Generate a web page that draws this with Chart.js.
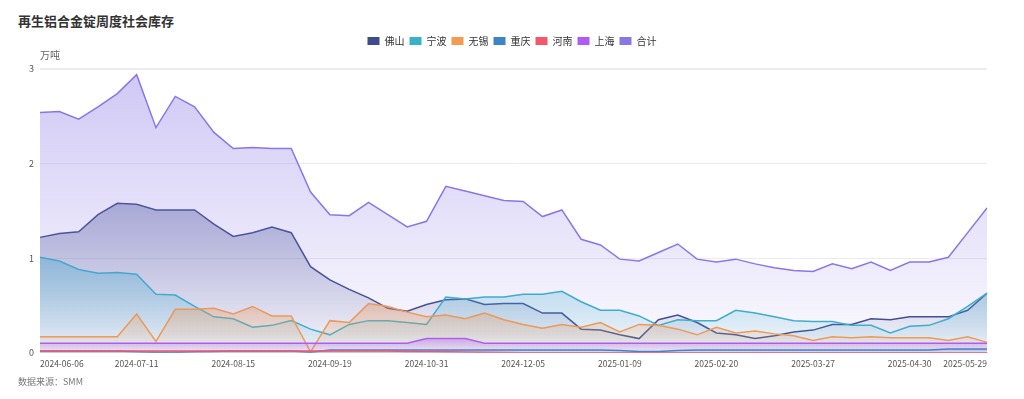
<!DOCTYPE html>
<html>
<head>
<meta charset="utf-8">
<script src="https://cdn.jsdelivr.net/npm/chart.js@4"></script>
<style>
  body { margin: 0; background: #fff; }
  #wrap { position: relative; width: 1024px; height: 399px; font-family: "Noto Sans CJK SC", "Noto Sans", sans-serif; }
  #title { position: absolute; left: 18px; top: 11px; font-size: 13px; font-weight: bold; color: #333; }
  #source { position: absolute; left: 18px; top: 375px; font-size: 9px; color: #777; }
  canvas { position: absolute; left: 0; top: 0; }
</style>
</head>
<body>
<div id="wrap">
  <div id="title">再生铝合金锭周度社会库存</div>
  <canvas id="chart" width="1024" height="399"></canvas>
  <div id="source">数据来源：SMM</div>
</div>
<script>
// weekly dates (holiday weeks skipped)
const dates = [
  "2024-06-06","2024-06-13","2024-06-20","2024-06-27","2024-07-04","2024-07-11","2024-07-18","2024-07-25",
  "2024-08-01","2024-08-08","2024-08-15","2024-08-22","2024-08-29","2024-09-05","2024-09-12","2024-09-19",
  "2024-09-26","2024-10-10","2024-10-17","2024-10-24","2024-10-31","2024-11-07","2024-11-14","2024-11-21",
  "2024-11-28","2024-12-05","2024-12-12","2024-12-19","2024-12-26","2025-01-02","2025-01-09","2025-01-16",
  "2025-01-23","2025-02-06","2025-02-13","2025-02-20","2025-02-27","2025-03-06","2025-03-13","2025-03-20",
  "2025-03-27","2025-04-03","2025-04-10","2025-04-17","2025-04-24","2025-04-30","2025-05-08","2025-05-15",
  "2025-05-22","2025-05-29"
];

const names = ["佛山", "宁波", "无锡", "重庆", "河南", "上海", "合计"];

const foshan = [1.22,1.26,1.28,1.46,1.58,1.57,1.51,1.51,1.51,1.36,1.23,1.27,1.33,1.27,0.91,0.77,0.67,0.58,0.47,0.44,
  0.51,0.56,0.57,0.51,0.52,0.52,0.42,0.42,0.25,0.24,0.19,0.15,0.35,0.40,0.32,0.21,0.19,0.15,0.18,0.22,
  0.24,0.30,0.30,0.36,0.35,0.38,0.38,0.38,0.45,0.63];
const ningbo = [1.01,0.97,0.88,0.84,0.85,0.83,0.62,0.61,0.49,0.38,0.36,0.27,0.29,0.34,0.25,0.19,0.30,0.34,0.34,0.32,
  0.30,0.59,0.57,0.59,0.59,0.62,0.62,0.65,0.54,0.45,0.45,0.39,0.29,0.35,0.34,0.34,0.45,0.42,0.38,0.34,
  0.33,0.33,0.29,0.29,0.21,0.28,0.29,0.36,0.49,0.63];
const wuxi = [0.17,0.17,0.17,0.17,0.17,0.41,0.12,0.46,0.46,0.47,0.41,0.49,0.39,0.39,0.01,0.34,0.32,0.52,0.49,0.43,
  0.38,0.40,0.36,0.42,0.35,0.30,0.26,0.30,0.27,0.32,0.22,0.30,0.29,0.25,0.19,0.27,0.21,0.23,0.20,0.18,
  0.13,0.17,0.16,0.17,0.16,0.16,0.16,0.13,0.17,0.11];
const chongqing = [0.02,0.02,0.02,0.02,0.02,0.01,0.005,0.005,0.01,0.015,0.02,0.02,0.02,0.02,0.005,0.03,0.03,0.03,0.03,0.03,
  0.03,0.03,0.03,0.03,0.03,0.03,0.03,0.03,0.03,0.03,0.025,0.015,0.015,0.025,0.03,0.03,0.03,0.03,0.03,0.03,
  0.03,0.03,0.03,0.03,0.03,0.03,0.03,0.04,0.04,0.04];
const henan = [0.02,0.02,0.02,0.02,0.02,0.02,0.02,0.02,0.02,0.02,0.02,0.02,0.02,0.02,0.02,0.02,0.02,0.02,0.018,0.015,
  0.013,0.01,0.008,0.005,0.003,0,0,0,0,0,0,0,0,0,0,0,0,0,0,0,
  0,0,0,0,0,0,0,0,0,0];
const shanghai = [0.1,0.1,0.1,0.1,0.1,0.1,0.1,0.1,0.1,0.1,0.1,0.1,0.1,0.1,0.1,0.1,0.1,0.1,0.1,0.1,
  0.15,0.15,0.15,0.1,0.1,0.1,0.1,0.1,0.1,0.1,0.1,0.1,0.1,0.1,0.1,0.1,0.1,0.1,0.1,0.1,
  0.1,0.1,0.1,0.1,0.1,0.1,0.1,0.1,0.1,0.1];
const total = [2.54,2.55,2.47,2.60,2.74,2.94,2.38,2.71,2.60,2.33,2.16,2.17,2.16,2.16,1.70,1.46,1.45,1.59,1.46,1.33,
  1.39,1.76,1.71,1.66,1.61,1.60,1.44,1.51,1.20,1.14,0.99,0.97,1.06,1.15,0.99,0.96,0.99,0.94,0.90,0.87,
  0.86,0.94,0.89,0.96,0.87,0.96,0.96,1.01,1.27,1.53];

const yTicks = [0, 1, 2, 3];

const series = [foshan, ningbo, wuxi, chongqing, henan, shanghai, total];
const colors = ["#3e4b8d", "#38b2c9", "#f39c4f", "#3b84c6", "#f4566a", "#b25bf4", "#8a77e6"];

function rgba(hex, a) {
  const n = parseInt(hex.slice(1), 16);
  return `rgba(${n >> 16},${(n >> 8) & 255},${n & 255},${a})`;
}

// gradient from the series' own peak down to the x axis
function areaFill(context) {
  const chart = context.chart;
  const area = chart.chartArea;
  const i = context.datasetIndex;
  if (!area || !chart.scales.y) return rgba(colors[i], 0.2);
  const top = chart.scales.y.getPixelForValue(Math.max(...series[i]));
  const g = chart.ctx.createLinearGradient(0, Math.min(top, area.bottom - 1), 0, area.bottom);
  g.addColorStop(0, rgba(colors[i], 0.4));
  g.addColorStop(1, rgba(colors[i], 0.03));
  return g;
}

// legend: extra gap below it (room for the unit label) and centred on the canvas
const legendTweak = {
  id: "legendTweak",
  beforeLayout(chart) {
    const lg = chart.legend;
    if (lg && !lg._gapPatched) {
      const fit = lg.fit;
      lg.fit = function () { fit.call(this); this.height += 13; };
      lg._gapPatched = true;
    }
  },
  afterLayout(chart) {
    const lg = chart.legend;
    if (lg) {
      lg.left = 37;
      lg.right = chart.width - 37;
    }
  }
};

const unitLabel = {
  id: "unitLabel",
  afterDraw(chart) {
    const ctx = chart.ctx;
    ctx.save();
    ctx.font = "10px 'Noto Sans CJK SC'";
    ctx.fillStyle = "#666";
    ctx.textBaseline = "middle";
    ctx.fillText("万吨", chart.chartArea.left, chart.chartArea.top - 14);
    ctx.restore();
  }
};

const ctx = document.getElementById("chart").getContext("2d");

new Chart(ctx, {
  type: "line",
  data: {
    labels: dates,
    datasets: series.map((vals, i) => ({
      label: names[i],
      data: vals,
      borderColor: colors[i],
      backgroundColor: areaFill,
      borderWidth: 1.5,
      pointRadius: 0,
      fill: "origin",
      order: -i
    }))
  },
  options: {
    responsive: false,
    animation: false,
    devicePixelRatio: 1,
    layout: { padding: { top: 31, right: 37, bottom: 24, left: 0 } },
    plugins: {
      legend: {
        position: "top",
        labels: {
          boxWidth: 12,
          boxHeight: 8,
          padding: 5,
          color: "#333",
          font: { size: 10, family: "'Noto Sans CJK SC'" },
          generateLabels(chart) {
            return chart.data.datasets.map((ds, i) => ({
              text: ds.label,
              fillStyle: colors[i],
              strokeStyle: colors[i],
              lineWidth: 0,
              fontColor: "#333",
              hidden: false,
              datasetIndex: i
            }));
          }
        }
      },
      tooltip: { enabled: false }
    },
    scales: {
      x: {
        grid: { display: false, drawTicks: false },
        border: { color: "#d6d6d6" },
        ticks: {
          autoSkip: false,
          maxRotation: 0,
          align: "inner",
          padding: 6,
          color: "#555",
          font: { size: 8.5, family: "'Noto Sans CJK SC'" },
          callback(v, i) {
            return (i % 5 === 0 || i === dates.length - 1) ? dates[i] : "";
          }
        }
      },
      y: {
        min: 0,
        max: 3,
        afterFit(scale) { scale.width = 40; },
        afterBuildTicks(scale) { scale.ticks = yTicks.map(v => ({ value: v })); },
        border: { display: false },
        grid: {
          color: "#ececec",
          drawTicks: false,
          lineWidth: c => (c.tick && c.tick.value === 3 ? 2 : 1)
        },
        ticks: {
          padding: 6,
          color: "#555",
          font: { size: 9, family: "'Noto Sans CJK SC'" }
        }
      }
    }
  },
  plugins: [legendTweak, unitLabel]
});
</script>
</body>
</html>
